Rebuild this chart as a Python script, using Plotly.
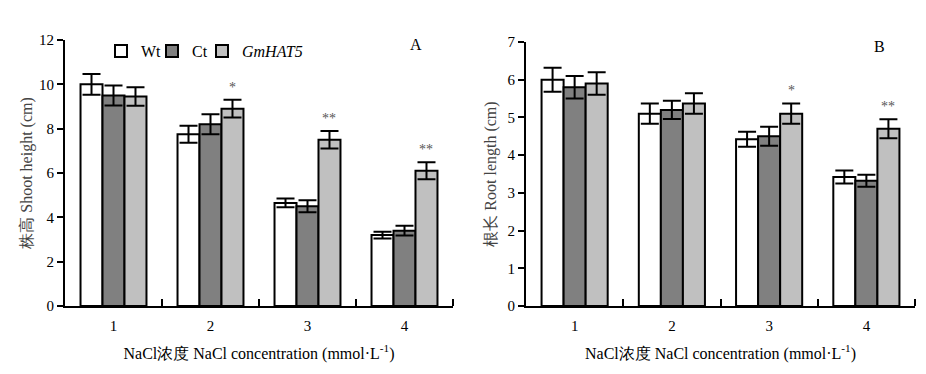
import plotly.graph_objects as go

categories = [1, 2, 3, 4]
tick_labels = ["1", "2", "3", "4"]
series_names = ["Wt", "Ct", "<i>GmHAT5</i>"]

# Panel A: shoot height (cm)
shoot_wt = [10.0, 7.75, 4.65, 3.2]
shoot_wt_err = [0.47, 0.38, 0.2, 0.15]
shoot_ct = [9.5, 8.2, 4.5, 3.4]
shoot_ct_err = [0.45, 0.45, 0.27, 0.22]
shoot_gm = [9.45, 8.9, 7.5, 6.1]
shoot_gm_err = [0.42, 0.4, 0.4, 0.38]
shoot_sig = ["", "*", "**", "**"]

# Panel B: root length (cm)
root_wt = [6.0, 5.1, 4.42, 3.42]
root_wt_err = [0.32, 0.27, 0.2, 0.17]
root_ct = [5.8, 5.2, 4.5, 3.32]
root_ct_err = [0.3, 0.24, 0.25, 0.16]
root_gm = [5.9, 5.37, 5.1, 4.7]
root_gm_err = [0.3, 0.27, 0.27, 0.25]
root_sig = ["", "", "*", "**"]

colors = ["#ffffff", "#808080", "#c0c0c0"]
FONT = "Liberation Serif"
BARGAP = 0.32
legend_ids = ["legend", "legend2", "legend3"]

W, H, OFF = 926, 374, 8  # page body margin offset


def fx(p):
    return (p - OFF) / W


def fy(p):
    return 1 - (p - OFF) / H


fig = go.Figure()

panels = [
    ("x", "y", [shoot_wt, shoot_ct, shoot_gm], [shoot_wt_err, shoot_ct_err, shoot_gm_err], True),
    ("x2", "y2", [root_wt, root_ct, root_gm], [root_wt_err, root_ct_err, root_gm_err], False),
]
for xa, ya, vals, errs, showleg in panels:
    for i in range(3):
        fig.add_trace(go.Bar(
            x=categories, y=vals[i], name=series_names[i],
            marker=dict(color=colors[i], line=dict(color="black", width=2)),
            error_y=dict(type="data", array=errs[i], visible=True,
                         color="black", thickness=2, width=9),
            xaxis=xa, yaxis=ya, showlegend=showleg, legend=legend_ids[i],
        ))

# significance marks over the GmHAT5 bars
bar_w = (1 - BARGAP) / 3
annotations = []
for xa, ya, vals, errs, sig in [("x", "y", shoot_gm, shoot_gm_err, shoot_sig),
                                 ("x2", "y2", root_gm, root_gm_err, root_sig)]:
    for c, v, e, s in zip(categories, vals, errs, sig):
        if s:
            annotations.append(dict(
                x=c + bar_w, y=v + e, xref=xa, yref=ya, text=s, showarrow=False,
                yanchor="bottom", yshift=3, font=dict(family=FONT, size=14, color="#555555")))

annotations += [
    dict(xref="x domain", yref="y domain", x=0.905, y=1.0, text="A", showarrow=False,
         xanchor="center", yanchor="middle", yshift=-4, font=dict(family=FONT, size=16, color="black")),
    dict(xref="x2 domain", yref="y2 domain", x=0.91, y=1.0, text="B", showarrow=False,
         xanchor="center", yanchor="middle", yshift=-4, font=dict(family=FONT, size=16, color="black")),
]

xcommon = dict(
    range=[0.5, 4.5], tickmode="array", tickvals=categories, ticktext=tick_labels,
    ticks="", showline=True, linecolor="black", linewidth=2, showgrid=False, zeroline=False,
    tickfont=dict(family=FONT, size=15, color="black"), ticklabelstandoff=5,
    minor=dict(tickmode="array", tickvals=[1.5, 2.5, 3.5, 4.5], ticks="inside",
               ticklen=7, tickwidth=2, tickcolor="black"),
    title=dict(text="NaCl浓度 NaCl concentration (mmol·L<sup>-1</sup>)",
               font=dict(family=FONT, size=16, color="black"), standoff=15),
    automargin=False,
)
ycommon = dict(
    showline=True, linecolor="black", linewidth=2, showgrid=False, zeroline=False,
    ticks="outside", ticklen=6, tickwidth=2, tickcolor="black",
    tickfont=dict(family=FONT, size=15, color="black"), automargin=False,
)

legend_common = dict(orientation="h", yanchor="middle", y=fy(51), xanchor="left",
                     font=dict(family=FONT, size=16, color="black"), bgcolor="rgba(0,0,0,0)",
                     itemclick=False)

fig.update_layout(
    width=W, height=H,
    margin=dict(l=0, r=0, t=0, b=0),
    paper_bgcolor="white", plot_bgcolor="white",
    barmode="group", bargap=BARGAP, bargroupgap=0,
    font=dict(family=FONT, color="black"),
    xaxis=dict(domain=[fx(65), fx(453)], anchor="y", **xcommon),
    xaxis2=dict(domain=[fx(526), fx(915)], anchor="y2", **xcommon),
    yaxis=dict(domain=[fy(306), fy(40)], anchor="x", range=[0, 12], dtick=2,
               title=dict(text="株高 Shoot height (cm)", font=dict(family=FONT, size=16, color="#444444"), standoff=2),
               **ycommon),
    yaxis2=dict(domain=[fy(306), fy(42)], anchor="x2", range=[0, 7], dtick=1,
                title=dict(text="根长 Root length (cm)", font=dict(family=FONT, size=16, color="#444444"), standoff=7),
                **ycommon),
    legend=dict(x=fx(93 + OFF), **legend_common),
    legend2=dict(x=fx(144 + OFF), **legend_common),
    legend3=dict(x=fx(194 + OFF), **legend_common),
    annotations=annotations,
)

fig.write_html("out.html")
